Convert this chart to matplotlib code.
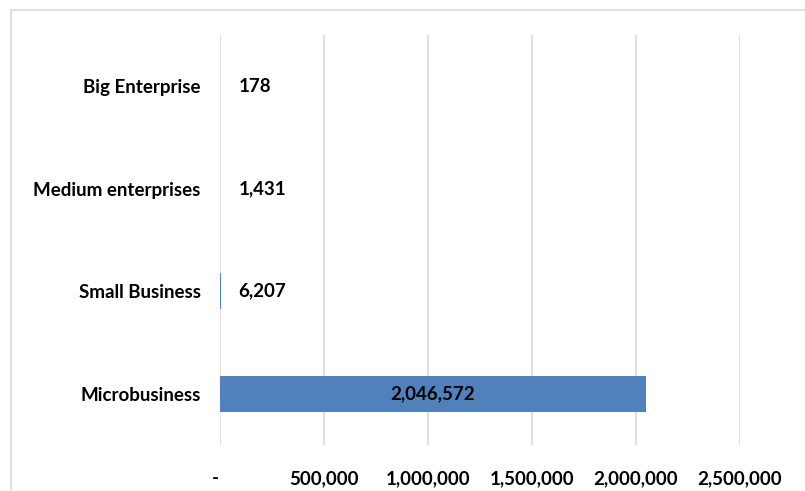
import matplotlib.pyplot as plt
from matplotlib.patches import Rectangle

categories = ["Microbusiness", "Small Business", "Medium enterprises", "Big Enterprise"]
values = [2046572, 6207, 1431, 178]
xticks = [0, 500000, 1000000, 1500000, 2000000, 2500000]
xtick_labels = ["-  ", "500,000", "1,000,000", "1,500,000", "2,000,000", "2,500,000"]

plt.rcParams['font.family'] = ['Lato', 'DejaVu Sans']
fs = 13.5

fig = plt.figure(figsize=(8.05, 4.91), dpi=100)
ax = fig.add_axes([220/805, 1-445/491, 520/805, 410/491])

# light frame around the chart
fig.patches.append(Rectangle((11/805, -0.01), 1.0, 1-10/491+0.01, transform=fig.transFigure,
                             fill=False, edgecolor='#d9d9d9', linewidth=1.2))

ypos = range(len(categories))
ax.barh(ypos, values, height=0.35, color='#4f81bd', zorder=3)

for y, v in zip(ypos, values):
    if v > 500000:
        ax.text(v/2, y, f"{v:,}", ha='center', va='center', fontsize=fs, fontweight='bold', zorder=4)
    else:
        ax.text(90000, y, f"{v:,}", ha='left', va='center', fontsize=fs, fontweight='bold', zorder=4)

ax.set_xlim(0, 2500000)
ax.set_ylim(-0.5, 3.5)
ax.set_xticks(xticks)
ax.set_xticklabels(xtick_labels, fontsize=fs, fontweight='bold')
ax.set_yticks(list(ypos))
ax.set_yticklabels(categories, fontsize=fs, fontweight='bold')
ax.tick_params(axis='x', length=0, pad=18)
ax.tick_params(axis='y', length=0, pad=14)
ax.grid(axis='x', color='#d9d9d9', linewidth=1.2, zorder=0)
for s in ax.spines.values():
    s.set_visible(False)

fig.savefig("out.png", dpi=100)
